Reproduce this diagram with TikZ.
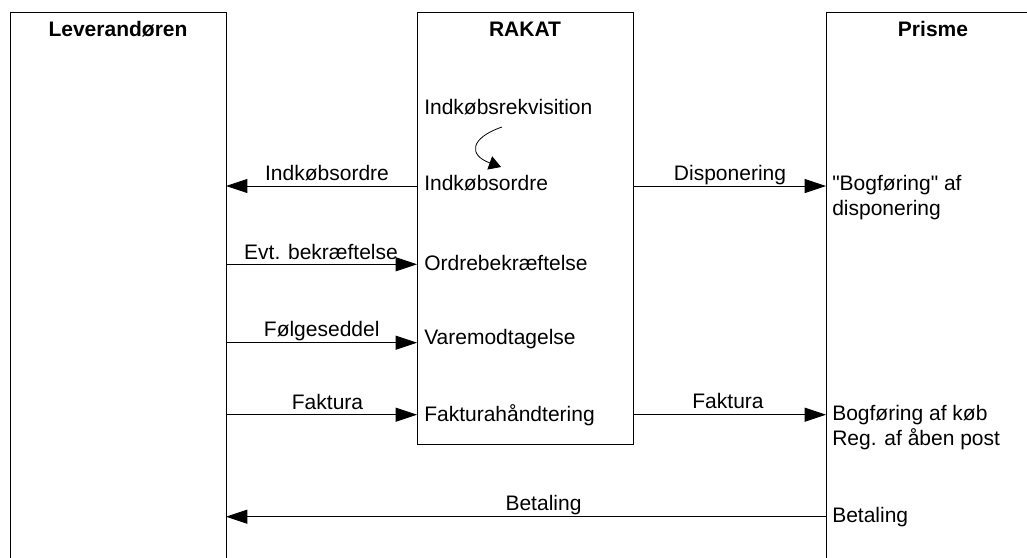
\documentclass[tikz,border=0pt]{standalone}
\usepackage{fontspec}
\setmainfont{Liberation Sans}
\usetikzlibrary{arrows.meta}
\begin{document}
\begin{tikzpicture}[x=0.75pt,y=-0.75pt,
  lane/.style={draw=black, line width=0.6pt, rectangle, inner sep=0pt, outer sep=0pt, anchor=north west},
  title/.style={font=\fontsize{15.75}{19}\selectfont\bfseries, anchor=base, inner sep=0pt},
  txt/.style={font=\fontsize{15.75}{19}\selectfont, anchor=base west, inner sep=0pt},
  lbl/.style={font=\fontsize{15.75}{19}\selectfont, anchor=base, inner sep=0pt},
  flow/.style={draw=black, line width=0.6pt, -{Triangle[length=16pt,width=10.5pt]}},
  loopflow/.style={draw=black, line width=0.6pt, -{Triangle[length=9pt,width=10.5pt]}},
]
\useasboundingbox (0,0) rectangle (1027,557);
\clip (0,0) rectangle (1027,557);
% lanes
\node[lane, minimum width=162pt, minimum height=450pt] (lev) at (10,12) {};
\node[lane, minimum width=162pt, minimum height=324pt] (rakat) at (417,12) {};
\node[lane, minimum width=160.5pt, minimum height=450pt] (prisme) at (826,12) {};
% titles
\node[title] (tlev) at (118,36.7) {Leverandøren};
\node[title] (trak) at (525,36.7) {RAKAT};
\node[title] (tpri) at (933,36.7) {Prisme};
% level coordinates
\coordinate (y1) at (0,186);
\coordinate (y2) at (0,264.3);
\coordinate (y3) at (0,342.7);
\coordinate (y4) at (0,414.7);
\coordinate (y5) at (0,516.7);
% texts in RAKAT
\node[txt] (req) at (424,114) {Indkøbsrekvisition};
\node[txt] (ordre) at (424,190.7) {Indkøbsordre};
\node[txt] (bekr) at (424,270) {Ordrebekræftelse};
\node[txt] (vare) at (424,344) {Varemodtagelse};
\node[txt] (fakh) at (424,421.5) {Fakturahåndtering};
% texts in Prisme
\node[txt] (bog1) at (832,190.7) {\textquotedbl Bogføring\textquotedbl{} af};
\node[txt] (bog2) at (832,215) {disponering};
\node[txt] (kob1) at (832,420.7) {Bogføring af køb};
\node[txt] (kob2) at (832,445) {Reg. af åben post};
\node[txt] (bet) at (832,522.7) {Betaling};
% connector labels
\node[lbl] (l1) at (327,180) {Indkøbsordre};
\node[lbl] (l2) at (730,180) {Disponering};
\node[lbl] (l3) at (321,259) {Evt. bekræftelse};
\node[lbl] (l4) at (321.7,336.7) {Følgeseddel};
\node[lbl] (l5) at (327.5,409) {Faktura};
\node[lbl] (l6) at (728,408.3) {Faktura};
\node[lbl] (l7) at (543.5,510) {Betaling};
% connectors
\draw[flow] (rakat.west |- y1) -- (lev.east |- y1);
\draw[flow] (rakat.east |- y1) -- (prisme.west |- y1);
\draw[flow] (lev.east |- y2) -- (rakat.west |- y2);
\draw[flow] (lev.east |- y3) -- (rakat.west |- y3);
\draw[flow] (lev.east |- y4) -- (rakat.west |- y4);
\draw[flow] (rakat.east |- y4) -- (prisme.west |- y4);
\draw[flow] (prisme.west |- y5) -- (lev.east |- y5);
% internal loop arrow
\coordinate (c1) at (502,127);
\coordinate (c2) at (501,167);
\draw[loopflow] (c1) .. controls (470,138) and (468,155) .. (c2);
\end{tikzpicture}
\end{document}
